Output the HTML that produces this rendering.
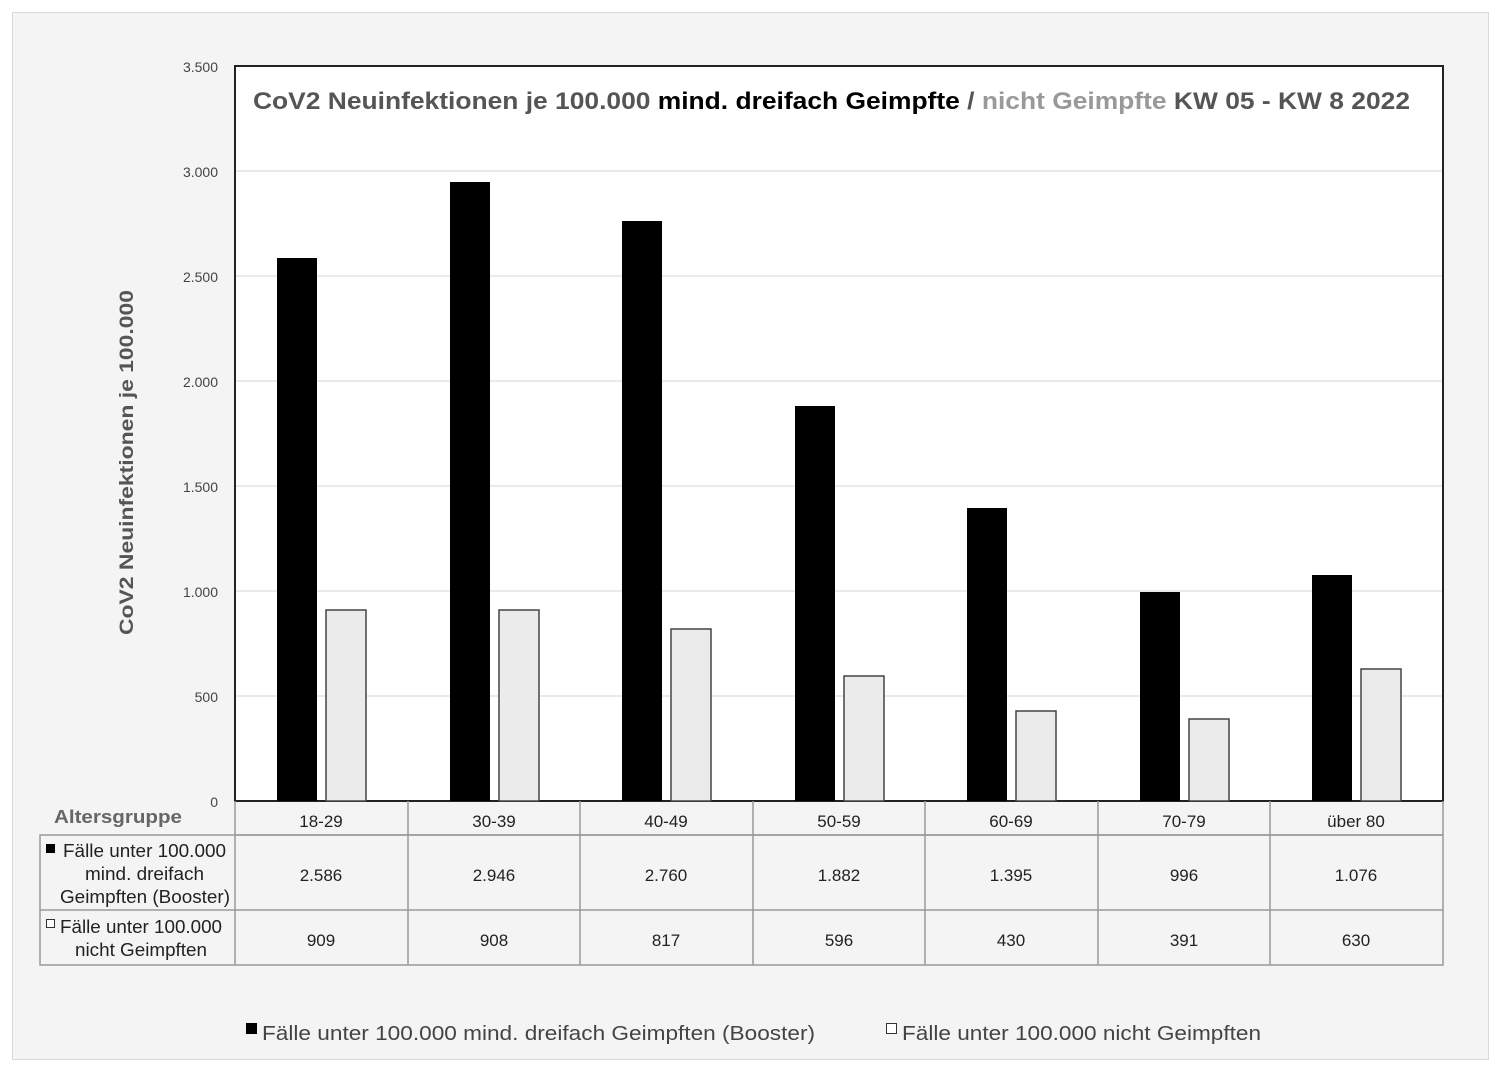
<!DOCTYPE html>
<html><head><meta charset="utf-8"><style>
html,body{margin:0;padding:0;background:#fff}
svg{display:block;font-family:"Liberation Sans",Arial,sans-serif}
</style></head><body>
<svg width="1504" height="1080" viewBox="0 0 1504 1080" xmlns="http://www.w3.org/2000/svg">
<rect x="0" y="0" width="1504" height="1080" fill="#fff"/>
<rect x="12.5" y="12.5" width="1476" height="1047" fill="#f4f4f4" stroke="#d8d8d8"/>
<rect x="235" y="66" width="1208" height="735" fill="#fff" stroke="#222" stroke-width="2"/>
<g stroke="#e4e4e4" stroke-width="1.5">
<line x1="236" x2="1442" y1="171" y2="171"/><line x1="236" x2="1442" y1="276" y2="276"/>
<line x1="236" x2="1442" y1="381" y2="381"/><line x1="236" x2="1442" y1="486" y2="486"/>
<line x1="236" x2="1442" y1="591" y2="591"/><line x1="236" x2="1442" y1="696" y2="696"/>
</g>
<g font-size="14" fill="#444" text-anchor="end">
<text x="218" y="72">3.500</text><text x="218" y="177">3.000</text><text x="218" y="282">2.500</text>
<text x="218" y="387">2.000</text><text x="218" y="492">1.500</text><text x="218" y="597">1.000</text>
<text x="218" y="702">500</text><text x="218" y="807">0</text>
</g>
<text transform="translate(133,635) rotate(-90)" font-size="19" font-weight="bold" fill="#555" textLength="345" lengthAdjust="spacingAndGlyphs">CoV2 Neuinfektionen  je 100.000</text>
<text x="253" y="109" font-size="24" font-weight="bold" fill="#555" textLength="1157" lengthAdjust="spacingAndGlyphs">CoV2 Neuinfektionen je 100.000 <tspan fill="#000">mind. dreifach Geimpfte</tspan> / <tspan fill="#999">nicht Geimpfte</tspan> KW 05 - KW 8 2022</text>
<g id="bars">
<rect x="277" y="258" width="40" height="543" fill="#000"/>
<rect x="326" y="610" width="40" height="191" fill="#ebebeb" stroke="#444" stroke-width="1.5"/>
<rect x="450" y="182" width="40" height="619" fill="#000"/>
<rect x="499" y="610" width="40" height="191" fill="#ebebeb" stroke="#444" stroke-width="1.5"/>
<rect x="622" y="221" width="40" height="580" fill="#000"/>
<rect x="671" y="629" width="40" height="172" fill="#ebebeb" stroke="#444" stroke-width="1.5"/>
<rect x="795" y="406" width="40" height="395" fill="#000"/>
<rect x="844" y="676" width="40" height="125" fill="#ebebeb" stroke="#444" stroke-width="1.5"/>
<rect x="967" y="508" width="40" height="293" fill="#000"/>
<rect x="1016" y="711" width="40" height="90" fill="#ebebeb" stroke="#444" stroke-width="1.5"/>
<rect x="1140" y="592" width="40" height="209" fill="#000"/>
<rect x="1189" y="719" width="40" height="82" fill="#ebebeb" stroke="#444" stroke-width="1.5"/>
<rect x="1312" y="575" width="40" height="226" fill="#000"/>
<rect x="1361" y="669" width="40" height="132" fill="#ebebeb" stroke="#444" stroke-width="1.5"/>
</g>
<g stroke="#999" stroke-width="1.5" fill="none">
<rect x="40" y="835" width="1403" height="130"/>
<line x1="235" y1="801" x2="235" y2="965"/>
<line x1="235" y1="835" x2="1443" y2="835"/>
<line x1="1443" y1="801" x2="1443" y2="835"/>
<line x1="40" y1="910" x2="1443" y2="910"/>
<line x1="408" y1="801" x2="408" y2="965"/><line x1="580" y1="801" x2="580" y2="965"/>
<line x1="753" y1="801" x2="753" y2="965"/><line x1="925" y1="801" x2="925" y2="965"/>
<line x1="1098" y1="801" x2="1098" y2="965"/><line x1="1270" y1="801" x2="1270" y2="965"/>
</g>
<text x="54" y="823" font-size="18" font-weight="bold" fill="#666" textLength="128" lengthAdjust="spacingAndGlyphs">Altersgruppe</text>
<g font-size="17" fill="#222" text-anchor="middle">
<text x="321" y="827">18-29</text><text x="494" y="827">30-39</text><text x="666" y="827">40-49</text>
<text x="839" y="827">50-59</text><text x="1011" y="827">60-69</text><text x="1184" y="827">70-79</text><text x="1356" y="827">über 80</text>
<text x="321" y="881">2.586</text><text x="494" y="881">2.946</text><text x="666" y="881">2.760</text>
<text x="839" y="881">1.882</text><text x="1011" y="881">1.395</text><text x="1184" y="881">996</text><text x="1356" y="881">1.076</text>
<text x="321" y="946">909</text><text x="494" y="946">908</text><text x="666" y="946">817</text>
<text x="839" y="946">596</text><text x="1011" y="946">430</text><text x="1184" y="946">391</text><text x="1356" y="946">630</text>
</g>
<g font-size="18" fill="#222">
<text x="63" y="857" textLength="163" lengthAdjust="spacingAndGlyphs">Fälle unter 100.000</text>
<text x="85" y="880" textLength="119" lengthAdjust="spacingAndGlyphs">mind. dreifach</text>
<text x="60" y="903" textLength="170" lengthAdjust="spacingAndGlyphs">Geimpften (Booster)</text>
<text x="60" y="933" textLength="162" lengthAdjust="spacingAndGlyphs">Fälle unter 100.000</text>
<text x="75" y="956" textLength="132" lengthAdjust="spacingAndGlyphs">nicht Geimpften</text>
</g>
<rect x="46" y="844" width="9" height="9" fill="#000"/>
<rect x="46.5" y="919.5" width="8" height="8" fill="#fff" stroke="#333"/>
<rect x="246" y="1023" width="11" height="11" fill="#000"/>
<text x="262" y="1040" font-size="20" fill="#444" textLength="553" lengthAdjust="spacingAndGlyphs">Fälle unter 100.000 mind. dreifach Geimpften (Booster)</text>
<rect x="886.5" y="1023.5" width="10" height="10" fill="#fff" stroke="#333"/>
<text x="902" y="1040" font-size="20" fill="#444" textLength="359" lengthAdjust="spacingAndGlyphs">Fälle unter 100.000 nicht Geimpften</text>
</svg>
</body></html>
